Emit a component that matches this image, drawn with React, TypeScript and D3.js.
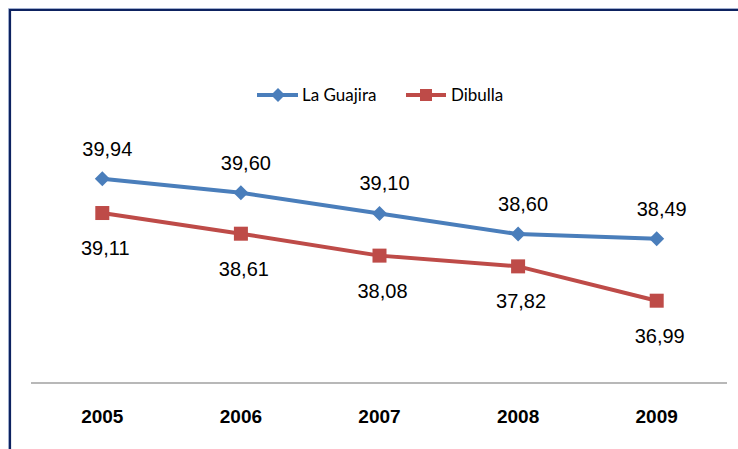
import React from "react";
import * as d3 from "d3";

const years = ["2005", "2006", "2007", "2008", "2009"];
const guajira = [39.94, 39.6, 39.1, 38.6, 38.49];
const dibulla = [39.11, 38.61, 38.08, 37.82, 36.99];
const seriesNames = ["La Guajira", "Dibulla"];

const W = 738;
const H = 449;

export default function App() {
  const x = d3.scaleBand<string>().domain(years).range([33, 726]);
  const y = d3.scaleLinear().domain([35, 42]).range([383, 93.5]);
  const cx = (d: string) => (x(d) ?? 0) + x.bandwidth() / 2;
  const line = d3
    .line<number>()
    .x((_, i) => cx(years[i]))
    .y((v) => y(v));
  const fmt = (v: number) => v.toFixed(2).replace(".", ",");
  const blue = "#4a7ebb";
  const red = "#be4b48";
  const diamond = (px: number, py: number, r: number) =>
    `M${px},${py - r}L${px + r},${py}L${px},${py + r}L${px - r},${py}Z`;

  return (
    <svg
      width={W}
      height={H}
      style={{ position: "absolute", left: 0, top: 0, background: "#fff" }}
    >
      <rect x={0} y={0} width={W} height={H} fill="#fff" />
      <path d={`M10,${H + 5}V10H${W + 5}`} fill="none" stroke="#0d2260" strokeWidth={2.2} />
      <path d={`M8.5,${H + 5}V8.5H${W + 5}`} fill="none" stroke="#8a9cc4" strokeWidth={0.8} />

      {/* axis */}
      <line x1={31} x2={727} y1={383} y2={383} stroke="#a0a0a0" strokeWidth={1.5} />
      {years.map((yr) => (
        <text
          key={yr}
          x={cx(yr)}
          y={423}
          textAnchor="middle"
          fontFamily="Liberation Sans, Arial, sans-serif"
          fontWeight="bold"
          fontSize={19}
          fill="#000"
        >
          {yr}
        </text>
      ))}

      {/* lines */}
      <path d={line(guajira) ?? ""} fill="none" stroke={blue} strokeWidth={4} strokeLinejoin="round" />
      <path d={line(dibulla) ?? ""} fill="none" stroke={red} strokeWidth={4} strokeLinejoin="round" />
      {guajira.map((v, i) => (
        <path key={"g" + i} d={diamond(cx(years[i]), y(v), 7.5)} fill={blue} />
      ))}
      {dibulla.map((v, i) => (
        <rect key={"d" + i} x={cx(years[i]) - 7} y={y(v) - 7} width={14} height={14} fill={red} />
      ))}

      {/* labels */}
      {guajira.map((v, i) => (
        <text
          key={"gl" + i}
          x={cx(years[i]) + 5}
          y={y(v) - 23}
          textAnchor="middle"
          fontFamily="Liberation Sans, Arial, sans-serif"
          fontSize={20}
          fill="#000"
        >
          {fmt(v)}
        </text>
      ))}
      {dibulla.map((v, i) => (
        <text
          key={"dl" + i}
          x={cx(years[i]) + 3}
          y={y(v) + 42}
          textAnchor="middle"
          fontFamily="Liberation Sans, Arial, sans-serif"
          fontSize={20}
          fill="#000"
        >
          {fmt(v)}
        </text>
      ))}

      {/* legend */}
      <line x1={257} x2={298} y1={95} y2={95} stroke={blue} strokeWidth={4} />
      <path d={diamond(278, 95, 7)} fill={blue} />
      <text x={302} y={101} fontFamily="Lato, Carlito, sans-serif" fontSize={17} fill="#000">
        {seriesNames[0]}
      </text>
      <line x1={406} x2={446} y1={95} y2={95} stroke={red} strokeWidth={4} />
      <rect x={420} y={89} width={12} height={12} fill={red} />
      <text x={451} y={101} fontFamily="Lato, Carlito, sans-serif" fontSize={17} fill="#000">
        {seriesNames[1]}
      </text>
    </svg>
  );
}
